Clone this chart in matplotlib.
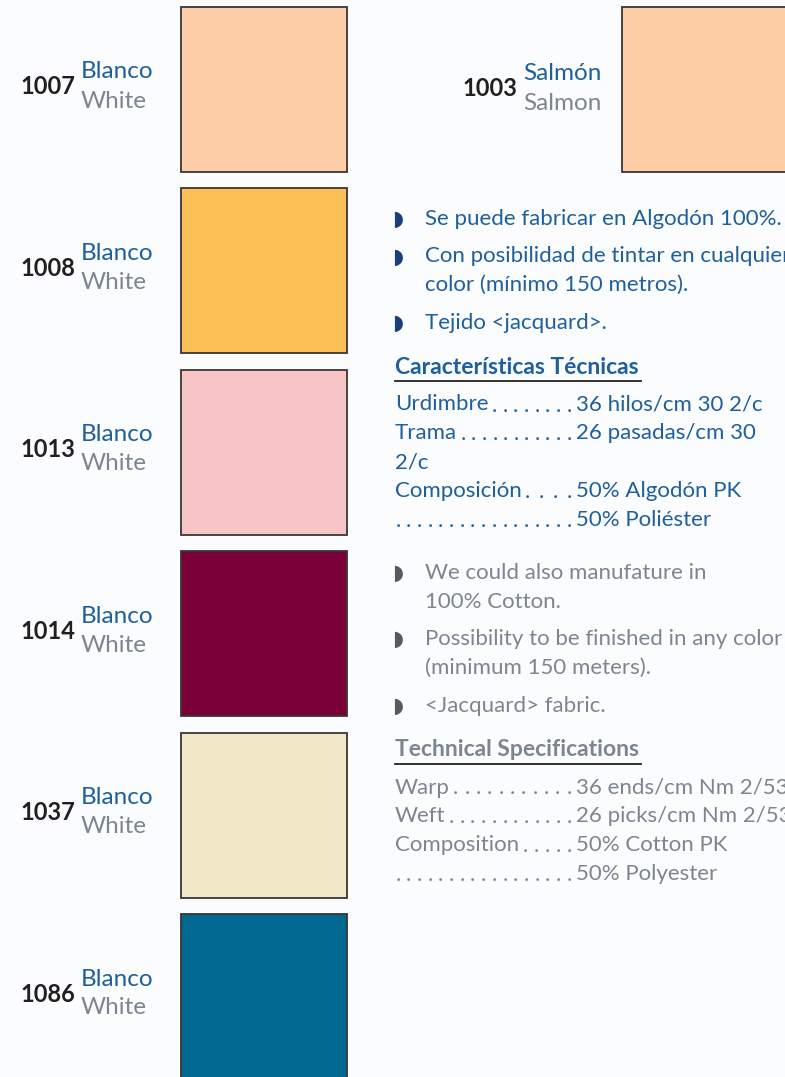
import matplotlib
matplotlib.use("Agg")
import matplotlib.pyplot as plt
from matplotlib.patches import Rectangle

codes = ['1007', '1008', '1013', '1014', '1037', '1086']
names_es = ['Blanco', 'Blanco', 'Blanco', 'Blanco', 'Blanco', 'Blanco']
names_en = ['White', 'White', 'White', 'White', 'White', 'White']
swatch_colors = ['#FCCDA6', '#FDC057', '#F8C5C6', '#7A0037', '#F1E8C8', '#006891']

side_code = '1003'
side_es = 'Salmón'
side_en = 'Salmon'
side_color = '#FDCDA5'

bullets_es = ['Se puede fabricar en Algodón 100%.',
              'Con posibilidad de tintar en cualquier\ncolor (mínimo 150 metros).',
              'Tejido <jacquard>.']
title_es = 'Características Técnicas'
spec_labels_es = ['Urdimbre', 'Trama', '2/c', 'Composición', '']
spec_values_es = ['36 hilos/cm 30 2/c', '26 pasadas/cm 30', '', '50% Algodón PK', '50% Poliéster']

bullets_en = ['We could also manufature in\n100% Cotton.',
              'Possibility to be finished in any color\n(minimum 150 meters).',
              '<Jacquard> fabric.']
title_en = 'Technical Specifications'
spec_labels_en = ['Warp', 'Weft', 'Composition', '']
spec_values_en = ['36 ends/cm Nm 2/53', '26 picks/cm Nm 2/53', '50% Cotton PK', '50% Polyester']

BLUE = '#1F5F9C'
GREY = '#7D8690'
BLACK = '#231F20'
FONT = ['Lato', 'DejaVu Sans']

fig = plt.figure(figsize=(7.85, 10.77), dpi=100)
fig.patch.set_facecolor('#FBFCFE')
ax = fig.add_axes([0, 0, 1, 1])
ax.set_xlim(0, 785)
ax.set_ylim(1077, 0)
ax.axis('off')

# left column of swatches
step = 181.4
for i, code in enumerate(codes):
    top = 7 + i * step
    ax.add_patch(Rectangle((181, top), 166, 165, facecolor=swatch_colors[i],
                           edgecolor='#3A3536', lw=1.3))
    ax.text(20, top + 80, code, fontsize=17, color=BLACK, family=FONT,
            fontweight='bold', va='center', ha='left')
    ax.text(81, top + 65, names_es[i], fontsize=17.5, color=BLUE, family=FONT,
            va='center', ha='left')
    ax.text(81, top + 94, names_en[i], fontsize=17.5, color=GREY, family=FONT,
            va='center', ha='left')

# right swatch
ax.add_patch(Rectangle((622, 7), 200, 165, facecolor=side_color,
                       edgecolor='#3A3536', lw=1.3))
ax.text(462, 88, side_code, fontsize=17, color=BLACK, family=FONT,
        fontweight='bold', va='center', ha='left')
ax.text(523, 74, side_es, fontsize=17.5, color=BLUE, family=FONT, va='center')
ax.text(523, 103, side_en, fontsize=17.5, color=GREY, family=FONT, va='center')

LINE = 28.8
FS = 16


def bullets(items, y0, color, bcolor):
    y = y0
    for item in items:
        ax.text(398, y, '\u25D7', fontsize=15, color=bcolor, family='DejaVu Sans',
                va='center', ha='center')
        for line in item.split('\n'):
            ax.text(425, y, line, fontsize=FS, color=color, family=FONT, va='center')
            y += LINE
        y += 37.5 - LINE


def specs(title, labels, values, y_title, color):
    t = ax.text(395, y_title, title, fontsize=16.5, color=color, family=FONT,
                fontweight='bold', va='center')
    fig.canvas.draw()
    r = fig.canvas.get_renderer()
    x1 = t.get_window_extent(r).x1
    ax.plot([395, x1 + 2], [y_title + 14, y_title + 14], color='#222222', lw=1.3)
    y = y_title + 37.5
    for lab, val in zip(labels, values):
        x_start = 398
        if lab:
            t = ax.text(395, y, lab, fontsize=FS, color=color, family=FONT, va='center')
            x_start = t.get_window_extent(r).x1 + 6
        if val:
            # dot leader from the label to the value column
            n = max(int((569 - x_start) / 10.5) + 1, 2)
            gap = (569 - x_start) / (n - 1)
            for k in range(n):
                ax.text(x_start + k * gap, y + 7, '.', fontsize=FS, color=color,
                        family=FONT, va='baseline', ha='center')
            ax.text(576, y, val, fontsize=FS, color=color, family=FONT, va='center')
        y += LINE


bullets(bullets_es, 219, BLUE, '#1A3F78')
specs(title_es, spec_labels_es, spec_values_es, 367, BLUE)

bullets(bullets_en, 573, GREY, '#555B63')
specs(title_en, spec_labels_en, spec_values_en, 750, GREY)

fig.savefig('out.png', dpi=100, facecolor=fig.get_facecolor())
